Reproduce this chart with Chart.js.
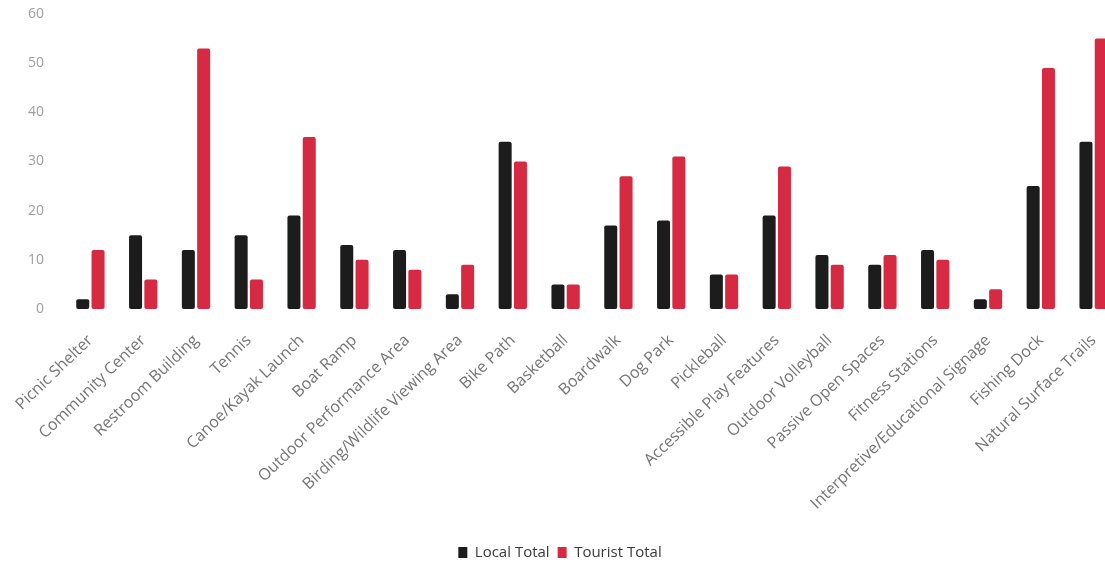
<!DOCTYPE html>
<html>
<head>
<meta charset="utf-8">
<script src="https://cdn.jsdelivr.net/npm/chart.js@4/dist/chart.umd.min.js"></script>
<style>
  html, body { margin: 0; padding: 0; background: #fff; overflow: hidden; }
  #wrap { width: 1120px; height: 570px; }
</style>
</head>
<body>
<div id="wrap"><canvas id="amenity-chart"></canvas></div>
<script>
const categories = [
  "Picnic Shelter", "Community Center", "Restroom Building", "Tennis",
  "Canoe/Kayak Launch", "Boat Ramp", "Outdoor Performance Area",
  "Birding/Wildlife Viewing Area", "Bike Path", "Basketball", "Boardwalk",
  "Dog Park", "Pickleball", "Accessible Play Features", "Outdoor Volleyball",
  "Passive Open Spaces", "Fitness Stations", "Interpretive/Educational Signage",
  "Fishing Dock", "Natural Surface Trails"
];
const localTotal = [2, 15, 12, 15, 19, 13, 12, 3, 34, 5, 17, 18, 7, 19, 11, 9, 12, 2, 25, 34];
const touristTotal = [12, 6, 53, 6, 35, 10, 8, 9, 30, 5, 27, 31, 7, 29, 9, 11, 10, 4, 49, 55];
const yTicks = [0, 10, 20, 30, 40, 50, 60];

const font = "'Open Sans', 'Liberation Sans', sans-serif";

new Chart(document.getElementById("amenity-chart"), {
  type: "bar",
  data: {
    labels: categories,
    datasets: [
      {
        label: "Local Total",
        data: localTotal,
        backgroundColor: "#1c1c1c",
        borderRadius: 2,
        borderSkipped: false,
      },
      {
        label: "Tourist Total",
        data: touristTotal,
        backgroundColor: "#d52a41",
        borderRadius: 2,
        borderSkipped: false,
      },
    ],
  },
  options: {
    responsive: true,
    maintainAspectRatio: false,
    animation: false,
    categoryPercentage: 0.58,
    barPercentage: 0.85,
    layout: { padding: { top: 14, left: 0, right: 0, bottom: 0 } },
    plugins: {
      tooltip: { enabled: false },
      legend: {
        position: "bottom",
        labels: {
          boxWidth: 9,
          boxHeight: 11,
          padding: 8,
          color: "#3a3a3a",
          font: { family: font, size: 15 },
        },
      },
    },
    scales: {
      x: {
        grid: { display: false, drawTicks: false },
        border: { display: false },
        ticks: {
          color: "#757575",
          font: { family: font, size: 16 },
          maxRotation: 44,
          minRotation: 44,
          padding: 22,
          autoSkip: false,
        },
        afterFit: (scale) => {
          scale.height = 228;
          scale.paddingLeft = 0;
          scale.paddingRight = 0;
        },
      },
      y: {
        min: 0,
        max: 60,
        grid: { display: false, drawTicks: false },
        border: { display: false },
        afterBuildTicks: (scale) => {
          scale.ticks = yTicks.map((v) => ({ value: v }));
        },
        ticks: {
          color: "#a0a0a0",
          font: { family: font, size: 14 },
          padding: 20,
        },
        afterFit: (scale) => {
          scale.width = 64;
          scale.paddingTop = 0;
          scale.paddingBottom = 0;
        },
      },
    },
  },
});
</script>
</body>
</html>
